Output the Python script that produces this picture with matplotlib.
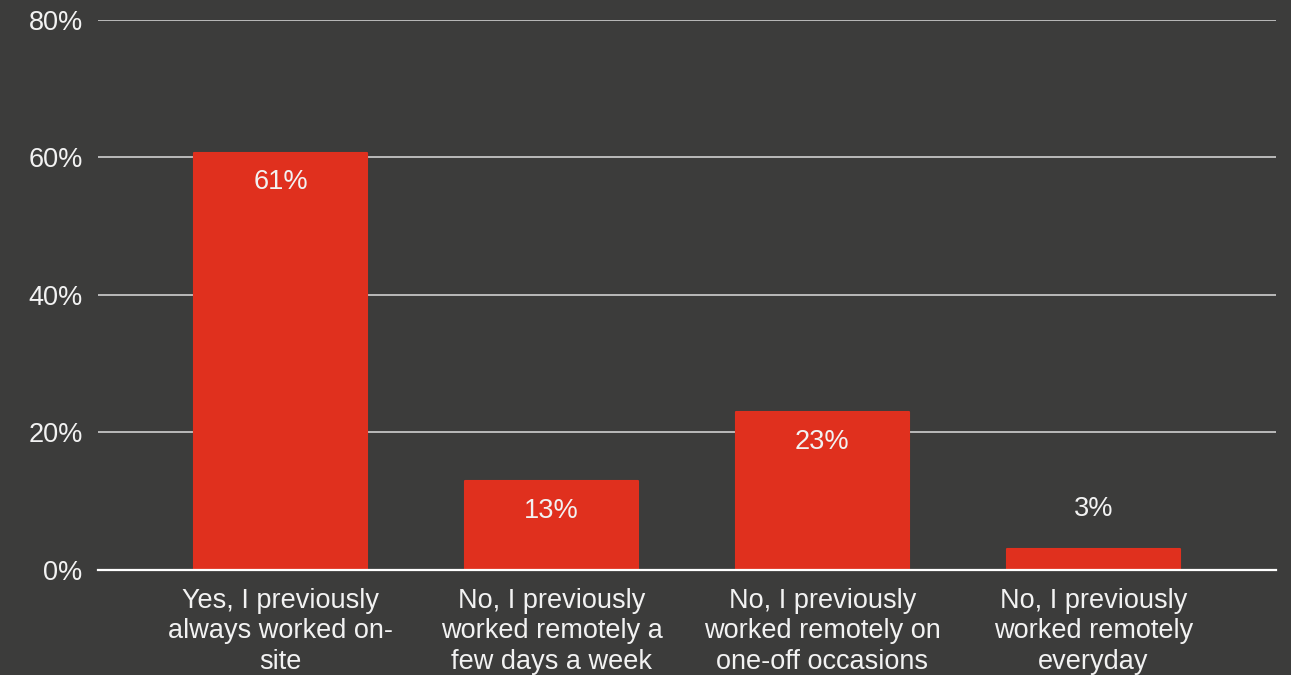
import matplotlib
matplotlib.use("Agg")
import matplotlib.pyplot as plt
from matplotlib.ticker import FuncFormatter

categories = [
    "Yes, I previously\nalways worked on-\nsite",
    "No, I previously\nworked remotely a\nfew days a week",
    "No, I previously\nworked remotely on\none-off occasions",
    "No, I previously\nworked remotely\neveryday",
]
values = [60.7, 12.9, 23.0, 3.0]
yticks = [0, 20, 40, 60, 80]

BG = "#3c3c3b"
BAR = "#e0301e"
TXT = "#f2f2f2"
FS = 19.5

plt.rcParams["font.family"] = ["Liberation Sans", "DejaVu Sans"]

fig = plt.figure(figsize=(12.91, 6.75), dpi=100, facecolor=BG)
ax = fig.add_axes([0.0759, 0.1556, 0.9125, 0.8148])
ax.set_facecolor(BG)

x = list(range(len(values)))
bars = ax.bar(x, values, width=0.64, color=BAR, edgecolor=BAR, linewidth=1.5,
              joinstyle="round", zorder=3)

ax.set_xlim(-0.675, 3.675)
ax.set_ylim(0, 80)
ax.set_yticks(yticks)
ax.yaxis.set_major_formatter(FuncFormatter(lambda v, p: f"{int(v)}%"))
ax.set_xticks(x)
ax.set_xticklabels(categories)

ax.grid(axis="y", color="#cfcfcf", linewidth=1.2, zorder=0)
ax.grid(axis="x", visible=False)
for s in ["top", "right", "left"]:
    ax.spines[s].set_visible(False)
ax.spines["bottom"].set_color("white")
ax.spines["bottom"].set_linewidth(1.6)
ax.spines["bottom"].set_zorder(4)

ax.tick_params(axis="both", length=0, colors=TXT, labelsize=FS)
ax.tick_params(axis="y", pad=11)
ax.tick_params(axis="x", pad=13)
for lab in ax.get_xticklabels():
    lab.set_linespacing(1.22)

for xi, v in zip(x, values):
    if v > 8:
        ax.annotate(f"{v:.0f}%", (xi, v), xytext=(0, -12), textcoords="offset points",
                    ha="center", va="top", color=TXT, fontsize=FS, zorder=5)
    else:
        ax.annotate(f"{v:.0f}%", (xi, v), xytext=(0, 19.5), textcoords="offset points",
                    ha="center", va="bottom", color=TXT, fontsize=FS, zorder=5)

fig.savefig("out.png", dpi=100, facecolor=BG)
